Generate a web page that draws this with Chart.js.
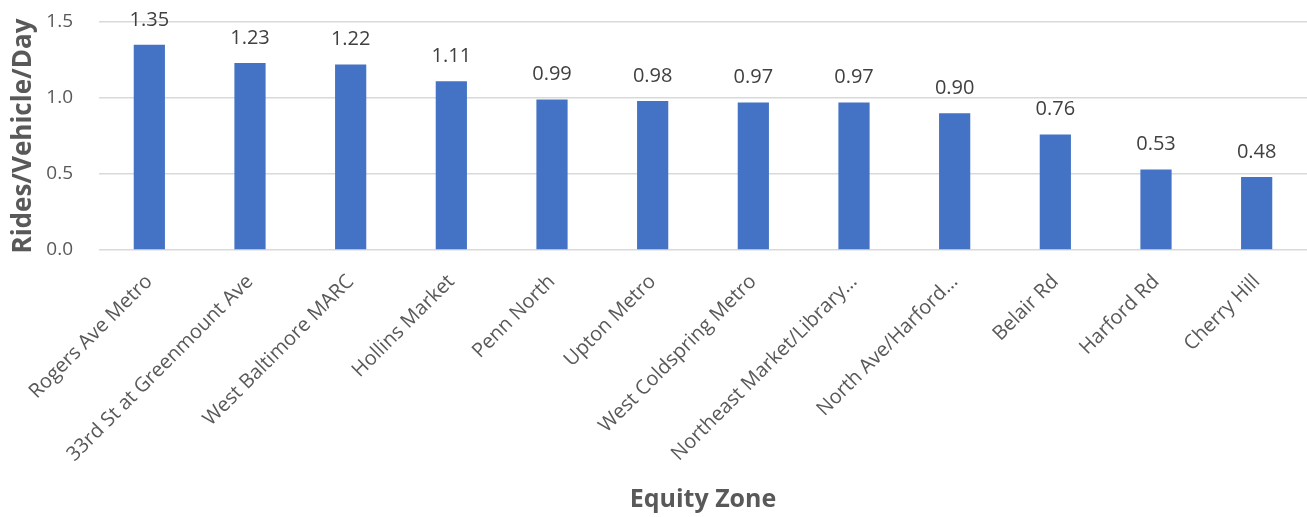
<!DOCTYPE html>
<html><head><meta charset="utf-8">
<script src="https://cdn.jsdelivr.net/npm/chart.js@4/dist/chart.umd.min.js"></script>
<style>html,body{margin:0;padding:0;background:#fff}#wrap{width:1307px;height:517px}</style>
</head><body><div id="wrap"><canvas id="c"></canvas></div>
<script>
const categories = ["Rogers Ave Metro","33rd St at Greenmount Ave","West Baltimore MARC","Hollins Market","Penn North","Upton Metro","West Coldspring Metro","Northeast Market/Library…","North Ave/Harford…","Belair Rd","Harford Rd","Cherry Hill"];
const ridesPerVehicle = [1.35,1.23,1.22,1.11,0.99,0.98,0.97,0.97,0.90,0.76,0.53,0.48];
const yTicks = [0,0.5,1.0,1.5];
const FONT = "'Open Sans', 'Liberation Sans', sans-serif";
const labelPlugin = {
  id:'lbl',
  afterDatasetsDraw(chart){
    const ctx=chart.ctx; const meta=chart.getDatasetMeta(0);
    ctx.save(); ctx.fillStyle='#404040'; ctx.font="20px "+FONT; ctx.textAlign='center'; ctx.textBaseline='middle';
    meta.data.forEach((b,i)=>{ ctx.fillText(ridesPerVehicle[i].toFixed(2), b.x, b.y-25); });
    ctx.restore();
  }
};
new Chart(document.getElementById('c'),{
  type:'bar',
  data:{labels:categories,datasets:[{data:ridesPerVehicle,backgroundColor:'#4472C4',barPercentage:0.31,categoryPercentage:1}]},
  options:{responsive:true,maintainAspectRatio:false,animation:false,
    layout:{padding:{top:22,right:0,left:4,bottom:2}},
    plugins:{legend:{display:false},tooltip:{enabled:false}},
    scales:{
      x:{grid:{display:false},border:{display:false},
        afterFit(s){s.height=265;s.paddingLeft=0;s.paddingRight=0;},
        ticks:{color:'#595959',font:{family:FONT,size:20},minRotation:45,maxRotation:45,padding:12,autoSkip:false},
        title:{display:true,text:'Equity Zone',color:'#595959',font:{family:FONT,size:25,weight:'bold'},padding:{top:8,bottom:0}}},
      y:{min:0,max:1.5,border:{display:false},
        afterFit(s){s.width=95;s.paddingTop=0;s.paddingBottom=0;},
        afterBuildTicks(s){s.ticks=yTicks.map(v=>({value:v}));},
        grid:{color:'#d9d9d9',lineWidth:1.5,drawTicks:false},
        ticks:{color:'#595959',font:{family:FONT,size:19},padding:26,callback:v=>Number(v).toFixed(1)},
        title:{display:true,text:'Rides/Vehicle/Day',color:'#595959',font:{family:FONT,size:26,weight:'bold'},padding:{bottom:2}}}
    }},
  plugins:[labelPlugin]
});
</script></body></html>
